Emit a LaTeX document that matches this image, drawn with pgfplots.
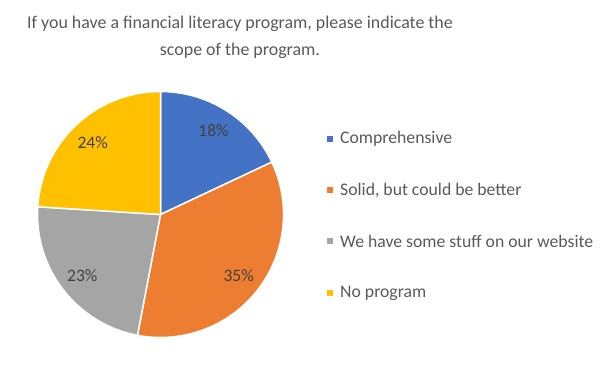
\documentclass[border=0pt]{standalone}
\usepackage{pgfplots}
\usepackage{pgfplotstable}
\pgfplotsset{compat=1.18}
\usepackage{fontspec}
\setmainfont{Carlito}
\definecolor{cBlue}{HTML}{4472C4}
\definecolor{cOrange}{HTML}{ED7D31}
\definecolor{cGray}{HTML}{A5A5A5}
\definecolor{cYellow}{HTML}{FFC000}
\definecolor{txtTitle}{HTML}{595959}
\definecolor{txtLab}{HTML}{404040}
\pgfplotstableread{
idx value
0 18
1 35
2 23
3 24
}\piedata
\pgfplotstablegetelem{0}{value}\of\piedata\let\vA\pgfplotsretval
\pgfplotstablegetelem{1}{value}\of\piedata\let\vB\pgfplotsretval
\pgfplotstablegetelem{2}{value}\of\piedata\let\vC\pgfplotsretval
\pgfplotstablegetelem{3}{value}\of\piedata\let\vD\pgfplotsretval
\pgfmathsetmacro\aA{90}
\pgfmathsetmacro\aB{\aA-3.6*\vA}
\pgfmathsetmacro\aC{\aB-3.6*\vB}
\pgfmathsetmacro\aD{\aC-3.6*\vC}
\pgfmathsetmacro\aE{\aD-3.6*\vD}
\pgfmathsetmacro\mA{(\aA+\aB)/2}
\pgfmathsetmacro\mB{(\aB+\aC)/2}
\pgfmathsetmacro\mC{(\aC+\aD)/2}
\pgfmathsetmacro\mD{(\aD+\aE)/2}
\begin{document}
\begin{tikzpicture}
\begin{axis}[
  scale only axis, width=600bp, height=368bp,
  xmin=0, xmax=600, ymin=0, ymax=368,
  hide axis, clip=false,
]
% pie slices (center at px 160.5, 214.5; radius 123)
\def\R{123bp}
\fill[cBlue, draw=white, line width=1.5bp] (axis cs:160.5,153.5) -- ++(\aA:\R) arc[start angle=\aA, end angle=\aB, radius=\R] -- cycle;
\fill[cOrange, draw=white, line width=1.5bp] (axis cs:160.5,153.5) -- ++(\aB:\R) arc[start angle=\aB, end angle=\aC, radius=\R] -- cycle;
\fill[cGray, draw=white, line width=1.5bp] (axis cs:160.5,153.5) -- ++(\aC:\R) arc[start angle=\aC, end angle=\aD, radius=\R] -- cycle;
\fill[cYellow, draw=white, line width=1.5bp] (axis cs:160.5,153.5) -- ++(\aD:\R) arc[start angle=\aD, end angle=\aE, radius=\R] -- cycle;
% labels
\path[font=\fontsize{17.5bp}{20bp}\selectfont, text=txtLab]
  (axis cs:160.5,153.5) ++(\mA:99bp) node{\vA\%}
  (axis cs:160.5,153.5) ++(\mB:99bp) node{\vB\%}
  (axis cs:160.5,153.5) ++(\mC:99bp) node{\vC\%}
  (axis cs:160.5,153.5) ++(\mD:99bp) node{\vD\%};
% title
\node[font=\fontsize{17.9bp}{27bp}\selectfont, text=txtTitle, align=center, anchor=center]
  at (axis cs:240,331) {If you have a financial literacy program, please indicate the\\scope of the program.};
% legend
\begin{scope}[font=\fontsize{17.7bp}{20bp}\selectfont, text=txtTitle]
\fill[cBlue] (axis cs:327,226) rectangle (axis cs:333,232);
\node[anchor=west, inner sep=0pt] at (axis cs:340,229) {Comprehensive};
\fill[cOrange] (axis cs:327,175) rectangle (axis cs:333,181);
\node[anchor=west, inner sep=0pt] at (axis cs:340,178) {Solid, but could be better};
\fill[cGray] (axis cs:327,124) rectangle (axis cs:333,130);
\node[anchor=west, inner sep=0pt] at (axis cs:340,127) {We have some stuff on our website};
\fill[cYellow] (axis cs:327,72) rectangle (axis cs:333,78);
\node[anchor=west, inner sep=0pt] at (axis cs:340,75) {No program};
\end{scope}
\end{axis}
\pgfresetboundingbox
\path (current axis.south west) rectangle (current axis.north east);
\end{tikzpicture}
\end{document}
